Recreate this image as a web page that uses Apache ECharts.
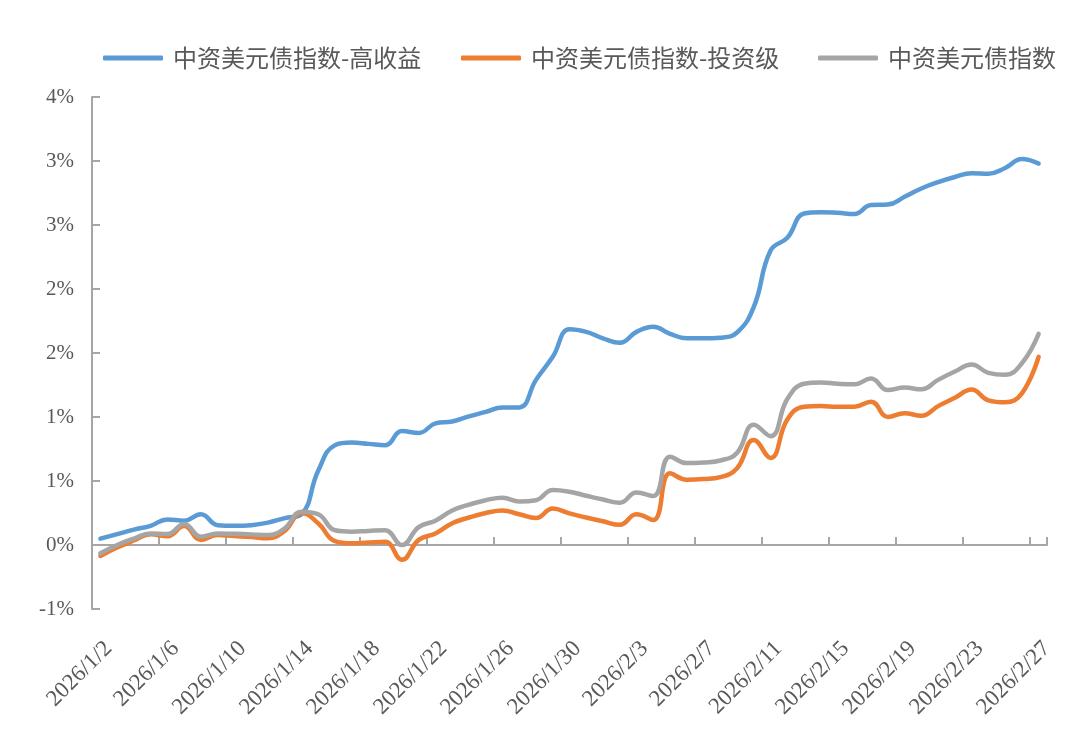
<!DOCTYPE html>
<html>
<head>
<meta charset="utf-8">
<script src="https://cdn.jsdelivr.net/npm/echarts@6/dist/echarts.min.js"></script>
<style>
html,body{margin:0;padding:0;background:#fff;}
#chart{width:1080px;height:734px;}
</style>
</head>
<body>
<div id="chart"></div>
<script>
var dates = ['2026/1/2','2026/1/3','2026/1/4','2026/1/5','2026/1/6','2026/1/7','2026/1/8','2026/1/9','2026/1/10','2026/1/11',
'2026/1/12','2026/1/13','2026/1/14','2026/1/15','2026/1/16','2026/1/17','2026/1/18','2026/1/19','2026/1/20','2026/1/21',
'2026/1/22','2026/1/23','2026/1/24','2026/1/25','2026/1/26','2026/1/27','2026/1/28','2026/1/29','2026/1/30','2026/1/31',
'2026/2/1','2026/2/2','2026/2/3','2026/2/4','2026/2/5','2026/2/6','2026/2/7','2026/2/8','2026/2/9','2026/2/10',
'2026/2/11','2026/2/12','2026/2/13','2026/2/14','2026/2/15','2026/2/16','2026/2/17','2026/2/18','2026/2/19','2026/2/20',
'2026/2/21','2026/2/22','2026/2/23','2026/2/24','2026/2/25','2026/2/26','2026/2/27'];

var seriesNames = ['中资美元债指数-高收益','中资美元债指数-投资级','中资美元债指数'];

var highYield = [0.05,0.085,0.12,0.15,0.20,0.19,0.24,0.155,0.15,0.155,
0.175,0.21,0.24,0.58,0.78,0.80,0.79,0.78,0.89,0.875,
0.95,0.965,1.005,1.04,1.075,1.075,1.29,1.47,1.685,1.665,
1.615,1.58,1.665,1.705,1.65,1.615,1.615,1.62,1.66,1.86,
2.30,2.40,2.59,2.60,2.595,2.585,2.656,2.66,2.72,2.785,
2.835,2.875,2.905,2.90,2.945,3.015,2.98];

var investGrade = [-0.086,-0.02,0.035,0.084,0.068,0.148,0.04,0.078,0.07,0.062,
0.052,0.11,0.25,0.17,0.03,0.013,0.02,0.025,-0.115,0.04,
0.09,0.17,0.215,0.25,0.27,0.24,0.21,0.285,0.247,0.215,
0.185,0.158,0.24,0.195,0.56,0.51,0.515,0.53,0.60,0.82,
0.68,0.98,1.08,1.085,1.08,1.08,1.12,1.00,1.03,1.01,
1.085,1.15,1.215,1.13,1.115,1.185,1.47];

var overall = [-0.065,0.0,0.05,0.09,0.085,0.165,0.065,0.09,0.087,0.083,
0.078,0.13,0.26,0.24,0.115,0.104,0.11,0.115,0.0,0.14,
0.19,0.27,0.315,0.35,0.37,0.34,0.35,0.43,0.416,0.385,
0.355,0.33,0.41,0.383,0.69,0.64,0.645,0.66,0.72,0.94,
0.85,1.14,1.26,1.27,1.26,1.255,1.30,1.21,1.23,1.216,
1.29,1.355,1.41,1.345,1.33,1.42,1.65];

var yTickValues = [-0.5,0,0.5,1,1.5,2,2.5,3,3.5];
var yTickLabels = ['-1%','0%','1%','1%','2%','2%','3%','3%','4%'];

var colors = ['#5B9BD5','#ED7D31','#A5A5A5'];
var axisColor = '#A6A6A6';
var textColor = '#595959';
var serif = '"Liberation Serif","DejaVu Serif",serif';
var cjk = '"Noto Sans CJK SC","Noto Sans",sans-serif';

var chart = echarts.init(document.getElementById('chart'), null, {renderer:'canvas'});

function mkLegend(name, left){
  return {
    data:[{name:name, icon:'roundRect'}],
    left:left, top:41,
    itemWidth:60, itemHeight:5,
    textStyle:{fontFamily:cjk, fontSize:24, color:textColor, padding:[0,0,0,5]},
    selectedMode:false
  };
}

var lineData = [highYield, investGrade, overall];
var series = seriesNames.map(function(n,i){
  return {
    name:n, type:'line', data:lineData[i], xAxisIndex:0, yAxisIndex:0,
    smooth:0.45, symbol:'none', showSymbol:false,
    lineStyle:{color:colors[i], width:4.5, cap:'round', join:'round'},
    itemStyle:{color:colors[i]},
    z:2+i
  };
});

chart.setOption({
  animation:false,
  backgroundColor:'#ffffff',
  color:colors,
  legend:[mkLegend(seriesNames[0],98), mkLegend(seriesNames[1],456), mkLegend(seriesNames[2],813)],
  grid:{left:92, right:33, top:97, bottom:125, containLabel:false},
  xAxis:[{
    type:'category', data:dates, boundaryGap:true, position:'bottom',
    axisLine:{show:true, onZero:true, lineStyle:{color:axisColor, width:2}},
    axisTick:{show:true, inside:true, length:8, interval:3, alignWithLabel:false, lineStyle:{color:axisColor, width:2}},
    axisLabel:{show:false},
    splitLine:{show:false}
  },{
    type:'category', data:dates, boundaryGap:true, position:'bottom',
    axisLine:{show:false, onZero:false},
    axisTick:{show:false},
    axisLabel:{show:true, interval:3, rotate:45, margin:28, verticalAlign:'top', fontFamily:serif, fontSize:23, color:textColor},
    splitLine:{show:false}
  }],
  yAxis:[{
    type:'value', min:-0.5, max:3.5, interval:0.5,
    axisLine:{show:true, lineStyle:{color:axisColor, width:2}},
    axisTick:{show:true, inside:true, length:8, lineStyle:{color:axisColor, width:2}},
    axisLabel:{show:true, margin:18, fontFamily:serif, fontSize:21, color:textColor,
      formatter:function(v){
        for (var i=0;i<yTickValues.length;i++){ if (Math.abs(yTickValues[i]-v)<1e-9) return yTickLabels[i]; }
        return '';
      }},
    splitLine:{show:false}
  }],
  series:series
});
</script>
</body>
</html>
